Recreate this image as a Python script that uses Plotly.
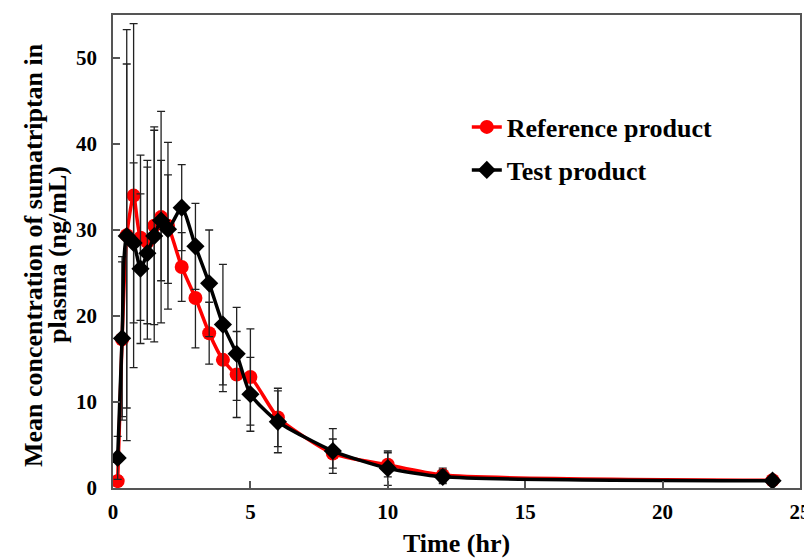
import plotly.graph_objects as go

time_h = [0.17, 0.33, 0.5, 0.75, 1.0, 1.25, 1.5, 1.75, 2.0, 2.5, 3.0, 3.5, 4.0, 4.5, 5.0, 6.0, 8.0, 10.0, 12.0, 24.0]

ref_mean = [0.8, 17.3, 29.4, 34.0, 29.1, 28.6, 30.5, 31.5, 30.5, 25.7, 22.1, 18.0, 14.9, 13.2, 12.9, 8.2, 4.0, 2.7, 1.5, 0.9]
ref_sd   = [0.6, 9.0, 23.9, 20.0, 9.6, 9.5, 11.5, 12.3, 9.7, 4.0, 5.8, 3.6, 3.7, 5.0, 5.6, 3.4, 1.7, 1.4, 0.8, 0.3]

test_mean = [3.5, 17.4, 29.3, 28.5, 25.5, 27.3, 29.3, 31.1, 30.1, 32.6, 28.1, 23.8, 19.0, 15.6, 10.9, 7.7, 4.3, 2.3, 1.3, 0.85]
test_sd   = [2.5, 9.5, 20.0, 9.3, 8.7, 10.0, 12.3, 7.0, 6.3, 5.0, 5.0, 6.2, 7.0, 5.4, 4.3, 3.6, 2.6, 2.0, 0.8, 0.3]

x_ticks = [0, 5, 10, 15, 20, 25]
y_ticks = [0, 10, 20, 30, 40, 50]

x_title = "Time (hr)"
y_title_lines = ["Mean concentration of sumatriptan in", "plasma (ng/mL)"]

FF = "Liberation Serif, Times New Roman, serif"
err_style = dict(type="data", visible=True, color="#222222", thickness=1.3, width=4)

fig = go.Figure()
fig.add_trace(go.Scatter(
    x=time_h, y=ref_mean, name="Reference product", mode="lines+markers",
    line=dict(color="#ff0000", width=3.5, shape="spline", smoothing=0.6),
    marker=dict(symbol="circle", size=14, color="#ff0000"),
    error_y=dict(array=ref_sd, **err_style),
    legend="legend",
))
fig.add_trace(go.Scatter(
    x=time_h, y=test_mean, name="Test product", mode="lines+markers",
    line=dict(color="#000000", width=3.5, shape="spline", smoothing=0.6),
    marker=dict(symbol="diamond", size=14, color="#000000"),
    error_y=dict(array=test_sd, **err_style),
    legend="legend2",
))

legend_common = dict(
    font=dict(family=FF, size=26, color="#000000", weight="bold"),
    bgcolor="rgba(0,0,0,0)", xanchor="left", yanchor="middle",
    itemwidth=30,
)

axis_common = dict(
    ticks="inside", ticklen=7, tickcolor="#555555", tickwidth=1.5,
    showline=True, linecolor="#555555", linewidth=1.5, mirror=True,
    showgrid=False, zeroline=False, automargin=False,
    tickfont=dict(family=FF, size=21, color="#000000", weight="bold"),
)

# page body has an 8px default margin, so the figure is sized to the visible area
fig.update_layout(
    width=804, height=551,
    margin=dict(l=105, r=12, t=7, b=71),
    paper_bgcolor="white", plot_bgcolor="white",
    font=dict(family=FF, color="#000000"),
    showlegend=True,
    legend=dict(x=0.515, y=(488 - 127) / 473, **legend_common),
    legend2=dict(x=0.515, y=(488 - 170) / 473, **legend_common),
    xaxis=dict(range=[0, 25], tickvals=x_ticks, ticktext=[str(v) for v in x_ticks],
               ticklabelstandoff=4, **axis_common),
    yaxis=dict(range=[0, 55], tickvals=y_ticks, ticktext=[str(v) for v in y_ticks],
               ticklabelstandoff=10, **axis_common),
)

title_font = dict(family=FF, size=26, color="#000000", weight="bold")
fig.add_annotation(text=x_title, xref="paper", yref="paper", x=0.5, y=-(543 - 488) / 473,
                   showarrow=False, font=title_font, xanchor="center", yanchor="middle")
for line_text, px_x in zip(y_title_lines, [33, 57]):
    fig.add_annotation(text=line_text, xref="paper", yref="paper",
                       x=(px_x - 113) / 687, y=(488 - 255) / 473, textangle=-90,
                       showarrow=False, font=title_font, xanchor="center", yanchor="middle")

fig.write_html("out.html")
